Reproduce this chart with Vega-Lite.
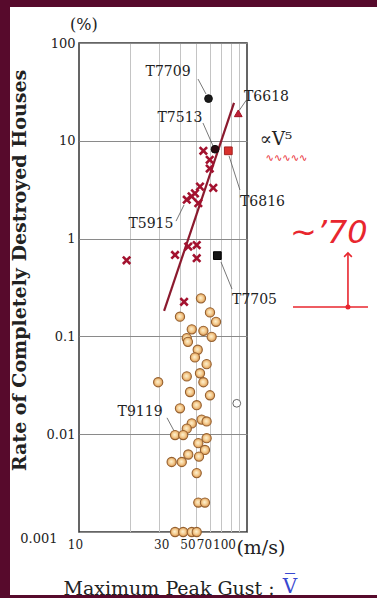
{
 "$schema": "https://vega.github.io/schema/vega-lite/v6.json",
 "width": 168,
 "height": 489,
 "autosize": {"type": "none"},
 "padding": {"left": 79, "top": 43, "right": 130, "bottom": 66},
 "background": "white",
 "config": {"view": {"stroke": "#333333", "strokeWidth": 1.5}, "font": "DejaVu Serif"},
 "datasets": {
  "one": [{"id": 1}],
  "pts": [
   {"v": 53.2, "r": 0.245, "k": "o"}, {"v": 39.9, "r": 0.159, "k": "o"}, {"v": 60.2, "r": 0.176, "k": "o"}, {"v": 65.4, "r": 0.141, "k": "o"},
   {"v": 46.9, "r": 0.118, "k": "o"}, {"v": 55, "r": 0.114, "k": "o"}, {"v": 61.6, "r": 0.099, "k": "o"}, {"v": 43.8, "r": 0.096, "k": "o"},
   {"v": 44.5, "r": 0.088, "k": "o"}, {"v": 50.9, "r": 0.073, "k": "o"}, {"v": 49, "r": 0.061, "k": "o"}, {"v": 57.5, "r": 0.052, "k": "o"},
   {"v": 52.5, "r": 0.042, "k": "o"}, {"v": 43.8, "r": 0.039, "k": "o"}, {"v": 29.6, "r": 0.034, "k": "o"}, {"v": 55, "r": 0.034, "k": "o"},
   {"v": 45.8, "r": 0.027, "k": "o"}, {"v": 60.2, "r": 0.025, "k": "o"}, {"v": 39.9, "r": 0.0184, "k": "o"}, {"v": 50.2, "r": 0.0198, "k": "o"},
   {"v": 46.9, "r": 0.0129, "k": "o"}, {"v": 53.7, "r": 0.0141, "k": "o"}, {"v": 57.5, "r": 0.0135, "k": "o"}, {"v": 43.8, "r": 0.0114, "k": "o"},
   {"v": 37.3, "r": 0.0098, "k": "o"}, {"v": 41.7, "r": 0.0098, "k": "o"}, {"v": 57.5, "r": 0.0091, "k": "o"}, {"v": 51.3, "r": 0.0081, "k": "o"},
   {"v": 56.2, "r": 0.0069, "k": "o"}, {"v": 51.8, "r": 0.0059, "k": "o"}, {"v": 44.7, "r": 0.0062, "k": "o"}, {"v": 35.6, "r": 0.0052, "k": "o"},
   {"v": 40.9, "r": 0.0052, "k": "o"}, {"v": 50.2, "r": 0.004, "k": "o"}, {"v": 51.3, "r": 0.002, "k": "o"}, {"v": 56.2, "r": 0.002, "k": "o"},
   {"v": 37.3, "r": 0.001, "k": "o"}, {"v": 41.7, "r": 0.001, "k": "o"}, {"v": 46.9, "r": 0.001, "k": "o"}, {"v": 50.2, "r": 0.001, "k": "o"},
   {"v": 55, "r": 7.9, "k": "x"}, {"v": 60, "r": 6.4, "k": "x"}, {"v": 60, "r": 5.2, "k": "x"}, {"v": 52.5, "r": 3.4, "k": "x"},
   {"v": 63, "r": 3.3, "k": "x"}, {"v": 49, "r": 2.9, "k": "x"}, {"v": 46.8, "r": 2.7, "k": "x"}, {"v": 43.8, "r": 2.5, "k": "x"},
   {"v": 51.3, "r": 2.3, "k": "x"}, {"v": 44.7, "r": 0.83, "k": "x"}, {"v": 50.2, "r": 0.86, "k": "x"}, {"v": 37.3, "r": 0.68, "k": "x"},
   {"v": 50.2, "r": 0.63, "k": "x"}, {"v": 19.2, "r": 0.6, "k": "x"}, {"v": 42.2, "r": 0.226, "k": "x"},
   {"v": 59, "r": 27, "k": "bc"}, {"v": 64.5, "r": 8.2, "k": "dc"}, {"v": 88.7, "r": 19.1, "k": "tri"}, {"v": 77.4, "r": 7.9, "k": "sq"},
   {"v": 66.6, "r": 0.67, "k": "bsq"}, {"v": 86.9, "r": 0.0207, "k": "w"}
  ],
  "labels": [
   {"text": "T7709", "v": 33.9, "r": 50.5}, {"text": "T6618", "v": 130.6, "r": 28.0}, {"text": "T7513", "v": 39.9, "r": 17.1},
   {"text": "T6816", "v": 123.7, "r": 2.37}, {"text": "T5915", "v": 26.8, "r": 1.41}, {"text": "T7705", "v": 110.9, "r": 0.2356},
   {"text": "T9119", "v": 23.1, "r": 0.0169}
  ],
  "leaders": [
   {"v": 51.1, "r": 42.8, "v2": 57.0, "r2": 30.1}, {"v": 90, "r": 20.5, "v2": 99, "r2": 26},
   {"v": 54.7, "r": 15.2, "v2": 62.8, "r2": 8.85}, {"v": 78.2, "r": 7.0, "v2": 90.8, "r2": 3.14},
   {"v": 37.8, "r": 1.51, "v2": 42.2, "r2": 2.21}, {"v": 70, "r": 0.577, "v2": 81.4, "r2": 0.305},
   {"v": 33.4, "r": 0.0147, "v2": 36.8, "r2": 0.0108}
  ],
  "fit": [{"v": 32.1, "r": 0.182}, {"v": 83.7, "r": 24.4}]
 },
 "resolve": {"axis": {"x": "independent", "y": "independent"}},
 "layer": [
  {
   "data": {"name": "one"},
   "mark": {"type": "rect", "fill": "#570a2c"},
   "encoding": {
    "x": {"datum": 3.0, "type": "quantitative", "scale": {"type": "log", "domain": [10, 100], "nice": false},
     "axis": {"orient": "bottom", "values": [20, 30, 40, 50, 60, 70, 80, 90], "grid": true, "gridColor": "#c4c4c4", "gridWidth": 1, "labels": false, "ticks": false, "domain": false, "title": null}},
    "x2": {"datum": 3.884},
    "y": {"datum": 400, "type": "quantitative", "scale": {"type": "log", "domain": [0.001, 100], "nice": false},
     "axis": {"orient": "left", "values": [0.001, 0.01, 0.1, 1, 10, 100],
      "labelExpr": "format(datum.value, '~g')",
      "grid": true, "gridColor": "#8a8a8a", "gridWidth": 1, "ticks": false, "domain": false,
      "labelFont": "DejaVu Serif", "labelFontSize": 13, "labelColor": "#222222",
      "labelPadding": {"condition": {"test": "datum.value < 0.005", "value": 22}, "value": 4},
      "labelBaseline": {"condition": {"test": "datum.value < 0.005", "value": "top"}, "value": "middle"},
      "title": "Rate of Completely Destroyed Houses", "titleFont": "DejaVu Serif", "titleFontSize": 19, "titleFontWeight": "bold", "titleColor": "#222222",
      "titleX": -54, "titleY": 227, "titleBaseline": "alphabetic"}},
    "y2": {"datum": 0.0001}
   }
  },
  {
   "data": {"name": "one"},
   "mark": {"type": "rect", "fill": "#570a2c"},
   "encoding": {
    "x": {"datum": 3.0, "type": "quantitative", "scale": {"type": "log", "domain": [10, 100], "nice": false}, "axis": null},
    "x2": {"datum": 1000},
    "y": {"datum": 400, "type": "quantitative", "scale": {"type": "log", "domain": [0.001, 100], "nice": false}, "axis": null},
    "y2": {"datum": 233.4}
   }
  },
  {
   "data": {"name": "one"},
   "mark": {"type": "rect", "fill": "#570a2c"},
   "encoding": {
    "x": {"datum": 3.0, "type": "quantitative", "scale": {"type": "log", "domain": [10, 100], "nice": false}, "axis": null},
    "x2": {"datum": 1000},
    "y": {"datum": 0.000227, "type": "quantitative", "scale": {"type": "log", "domain": [0.001, 100], "nice": false}, "axis": null},
    "y2": {"datum": 0.0001}
   }
  },
  {
   "data": {"name": "fit"},
   "mark": {"type": "line", "color": "#8b1a2e", "strokeWidth": 2.2},
   "encoding": {
    "x": {"field": "v", "type": "quantitative", "scale": {"type": "log", "domain": [10, 100], "nice": false}, "axis": null},
    "y": {"field": "r", "type": "quantitative", "scale": {"type": "log", "domain": [0.001, 100], "nice": false}, "axis": null}
   }
  },
  {
   "data": {"name": "leaders"},
   "mark": {"type": "rule", "color": "#555555", "strokeWidth": 0.8},
   "encoding": {
    "x": {"field": "v", "type": "quantitative", "scale": {"type": "log", "domain": [10, 100], "nice": false}, "axis": null},
    "y": {"field": "r", "type": "quantitative", "scale": {"type": "log", "domain": [0.001, 100], "nice": false}, "axis": null},
    "x2": {"field": "v2"}, "y2": {"field": "r2"}
   }
  },
  {
   "data": {"name": "pts"},
   "transform": [{"filter": "datum.k == 'o'"}],
   "mark": {"type": "point", "filled": true, "size": 85, "opacity": 1, "stroke": "#94602f", "strokeWidth": 1.1,
    "fill": {"gradient": "radial", "x1": 0.45, "y1": 0.45, "x2": 0.5, "y2": 0.5, "r1": 0, "r2": 0.6,
     "stops": [{"offset": 0, "color": "#fdf1d2"}, {"offset": 0.45, "color": "#f5cf94"}, {"offset": 1, "color": "#d27f36"}]}},
   "encoding": {
    "x": {"field": "v", "type": "quantitative", "scale": {"type": "log", "domain": [10, 100], "nice": false},
     "axis": {"orient": "bottom", "values": [10, 30, 50, 70, 100],
      "labelExpr": "format(datum.value, 'd')",
      "labelOffset": {"condition": [
        {"test": "datum.value == 10", "value": -4},
        {"test": "datum.value == 30", "value": 2},
        {"test": "datum.value == 50", "value": -9},
        {"test": "datum.value == 70", "value": -17},
        {"test": "datum.value == 100", "value": -23}], "value": 0},
      "grid": false, "ticks": false, "domain": false,
      "labelFont": "DejaVu Serif", "labelFontSize": 12, "labelColor": "#222222", "labelPadding": 7, "labelFlush": false, "labelOverlap": false,
      "title": "Maximum Peak Gust :", "titleFont": "DejaVu Serif", "titleFontSize": 19, "titleFontWeight": "normal", "titleColor": "#222222",
      "titleAlign": "left", "titleAnchor": "start", "titleX": -16, "titleY": 62, "titleBaseline": "alphabetic"}},
    "y": {"field": "r", "type": "quantitative", "scale": {"type": "log", "domain": [0.001, 100], "nice": false}, "axis": null}
   }
  },
  {
   "data": {"name": "pts"},
   "transform": [{"filter": "datum.k == 'x'"}],
   "mark": {"type": "point", "shape": "M-1,-1L1,1M-1,1L1,-1", "filled": false, "stroke": "#a3122f", "strokeWidth": 2.6, "size": 55, "opacity": 1},
   "encoding": {
    "x": {"field": "v", "type": "quantitative", "scale": {"type": "log", "domain": [10, 100], "nice": false}, "axis": null},
    "y": {"field": "r", "type": "quantitative", "scale": {"type": "log", "domain": [0.001, 100], "nice": false}, "axis": null}
   }
  },
  {
   "data": {"name": "pts"},
   "transform": [{"filter": "datum.k != 'x' && datum.k != 'o'"}],
   "mark": {"type": "point", "filled": true, "size": 60, "strokeWidth": 1, "opacity": 1},
   "encoding": {
    "x": {"field": "v", "type": "quantitative", "scale": {"type": "log", "domain": [10, 100], "nice": false}, "axis": null},
    "y": {"field": "r", "type": "quantitative", "scale": {"type": "log", "domain": [0.001, 100], "nice": false}, "axis": null},
    "shape": {"field": "k", "type": "nominal", "scale": {"domain": ["bc", "dc", "tri", "sq", "bsq", "w"], "range": ["circle", "circle", "triangle-up", "square", "square", "circle"]}, "legend": null},
    "fill": {"field": "k", "type": "nominal", "scale": {"domain": ["bc", "dc", "tri", "sq", "bsq", "w"], "range": ["#1a1a1a", "#2a0a10", "#c02038", "#d8302c", "#151515", "#ffffff"]}, "legend": null},
    "stroke": {"field": "k", "type": "nominal", "scale": {"domain": ["bc", "dc", "tri", "sq", "bsq", "w"], "range": ["#111111", "#111111", "#a01020", "#a02020", "#000000", "#666666"]}, "legend": null}
   }
  },
  {
   "data": {"name": "labels"},
   "mark": {"type": "text", "font": "DejaVu Serif", "fontSize": 14, "color": "#222222", "align": "center", "baseline": "middle"},
   "encoding": {
    "x": {"field": "v", "type": "quantitative", "scale": {"type": "log", "domain": [10, 100], "nice": false}, "axis": null},
    "y": {"field": "r", "type": "quantitative", "scale": {"type": "log", "domain": [0.001, 100], "nice": false}, "axis": null},
    "text": {"field": "text"}
   }
  },
  {
   "data": {"name": "one"},
   "mark": {"type": "text", "text": "∝V⁵", "font": "DejaVu Serif", "fontSize": 18, "color": "#222222", "align": "center", "baseline": "middle"},
   "encoding": {
    "x": {"datum": 148.8, "type": "quantitative", "scale": {"type": "log", "domain": [10, 100], "nice": false}, "axis": null},
    "y": {"datum": 10.3, "type": "quantitative", "scale": {"type": "log", "domain": [0.001, 100], "nice": false}, "axis": null}
   }
  },
  {
   "data": {"name": "one"},
   "mark": {"type": "text", "text": "∿∿∿∿∿", "font": "DejaVu Sans", "fontSize": 10, "color": "#e8262e", "align": "center", "baseline": "middle"},
   "encoding": {
    "x": {"datum": 171.8, "type": "quantitative", "scale": {"type": "log", "domain": [10, 100], "nice": false}, "axis": null},
    "y": {"datum": 6.7, "type": "quantitative", "scale": {"type": "log", "domain": [0.001, 100], "nice": false}, "axis": null}
   }
  },
  {
   "data": {"name": "one"},
   "mark": {"type": "text", "text": "(%)", "font": "DejaVu Serif", "fontSize": 16, "color": "#222222", "align": "center", "baseline": "middle"},
   "encoding": {
    "x": {"datum": 10.7, "type": "quantitative", "scale": {"type": "log", "domain": [10, 100], "nice": false}, "axis": null},
    "y": {"datum": 153, "type": "quantitative", "scale": {"type": "log", "domain": [0.001, 100], "nice": false}, "axis": null}
   }
  },
  {
   "data": {"name": "one"},
   "mark": {"type": "text", "text": "(m/s)", "font": "DejaVu Serif", "fontSize": 19, "color": "#222222", "align": "left", "baseline": "middle"},
   "encoding": {
    "x": {"datum": 86.5, "type": "quantitative", "scale": {"type": "log", "domain": [10, 100], "nice": false}, "axis": null},
    "y": {"datum": 0.000686, "type": "quantitative", "scale": {"type": "log", "domain": [0.001, 100], "nice": false}, "axis": null}
   }
  },
  {
   "data": {"name": "one"},
   "mark": {"type": "text", "text": "V̅", "font": "DejaVu Serif", "fontSize": 20, "color": "#3848d0", "align": "center", "baseline": "alphabetic"},
   "encoding": {
    "x": {"datum": 180.3, "type": "quantitative", "scale": {"type": "log", "domain": [10, 100], "nice": false}, "axis": null},
    "y": {"datum": 0.00024, "type": "quantitative", "scale": {"type": "log", "domain": [0.001, 100], "nice": false}, "axis": null}
   }
  },
  {
   "data": {"name": "one"},
   "mark": {"type": "text", "text": "~’70", "font": "DejaVu Sans", "fontStyle": "italic", "fontSize": 32, "color": "#e8262e", "align": "left", "baseline": "middle"},
   "encoding": {
    "x": {"datum": 180.3, "type": "quantitative", "scale": {"type": "log", "domain": [10, 100], "nice": false}, "axis": null},
    "y": {"datum": 1.14, "type": "quantitative", "scale": {"type": "log", "domain": [0.001, 100], "nice": false}, "axis": null}
   }
  },
  {
   "data": {"name": "one"},
   "mark": {"type": "rule", "color": "#e8262e", "strokeWidth": 1.6},
   "encoding": {
    "x": {"datum": 399, "type": "quantitative", "scale": {"type": "log", "domain": [10, 100], "nice": false}, "axis": null},
    "y": {"datum": 0.2, "type": "quantitative", "scale": {"type": "log", "domain": [0.001, 100], "nice": false}, "axis": null},
    "y2": {"datum": 0.713}
   }
  },
  {
   "data": {"name": "one"},
   "mark": {"type": "rule", "color": "#e8262e", "strokeWidth": 1.6},
   "encoding": {
    "x": {"datum": 187.8, "type": "quantitative", "scale": {"type": "log", "domain": [10, 100], "nice": false}, "axis": null},
    "x2": {"datum": 525},
    "y": {"datum": 0.2, "type": "quantitative", "scale": {"type": "log", "domain": [0.001, 100], "nice": false}, "axis": null}
   }
  },
  {
   "data": {"name": "one"},
   "mark": {"type": "point", "shape": "M-1,1L0,0L1,1", "filled": false, "stroke": "#e8262e", "strokeWidth": 1.6, "size": 60, "opacity": 1},
   "encoding": {
    "x": {"datum": 399, "type": "quantitative", "scale": {"type": "log", "domain": [10, 100], "nice": false}, "axis": null},
    "y": {"datum": 0.713, "type": "quantitative", "scale": {"type": "log", "domain": [0.001, 100], "nice": false}, "axis": null}
   }
  },
  {
   "data": {"name": "one"},
   "mark": {"type": "point", "shape": "circle", "filled": true, "color": "#e8262e", "size": 25, "opacity": 1},
   "encoding": {
    "x": {"datum": 399, "type": "quantitative", "scale": {"type": "log", "domain": [10, 100], "nice": false}, "axis": null},
    "y": {"datum": 0.2, "type": "quantitative", "scale": {"type": "log", "domain": [0.001, 100], "nice": false}, "axis": null}
   }
  }
 ]
}
